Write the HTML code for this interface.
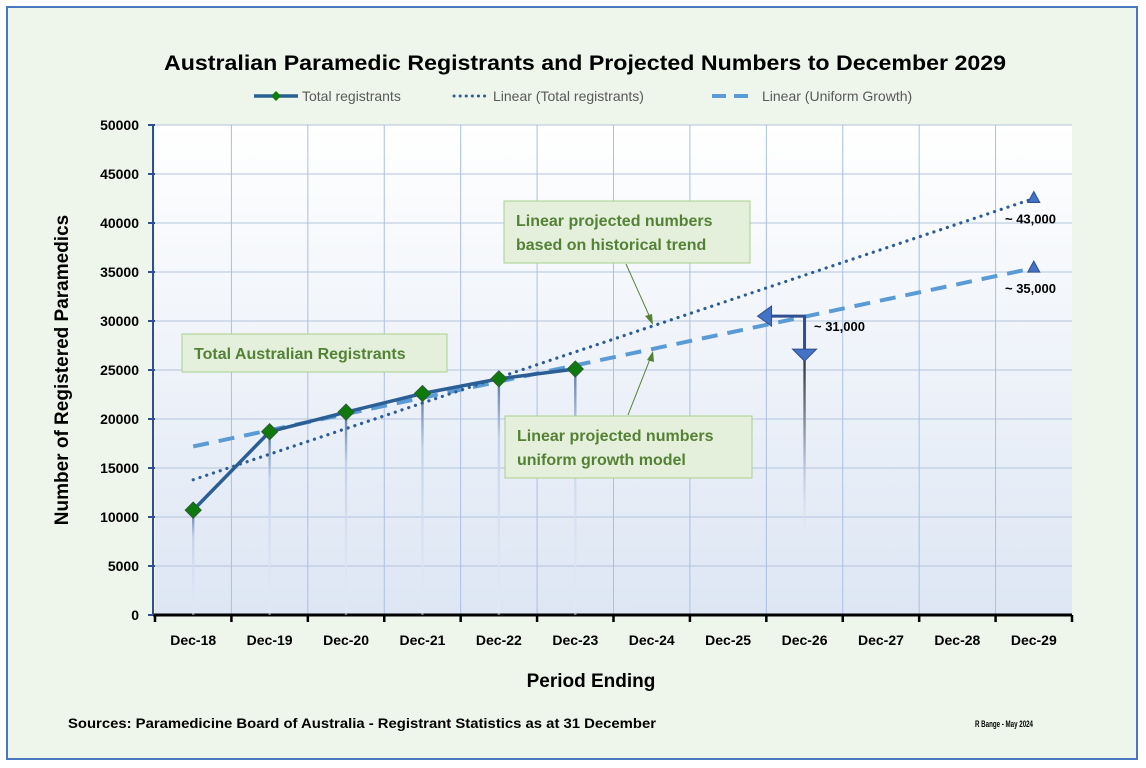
<!DOCTYPE html>
<html><head><meta charset="utf-8"><style>
body{margin:0;background:#fff;font-family:"Liberation Sans",sans-serif;}
#wrap{position:absolute;left:6px;top:6px;width:1132px;height:754px;border:2px solid #4a78c0;background:#eef5ea;box-sizing:border-box;}
</style></head><body>
<div id="wrap"></div>
<svg id="chart" width="1146" height="768" style="position:absolute;left:0;top:0">
<defs>
<linearGradient id="pbg" x1="0" y1="0" x2="0" y2="1"><stop offset="0" stop-color="#ffffff"/><stop offset="1" stop-color="#dde6f4"/></linearGradient>
<linearGradient id="drop" x1="0" y1="0" x2="0" y2="1"><stop offset="0" stop-color="#5a78a8"/><stop offset="0.25" stop-color="#c4d2ea"/><stop offset="1" stop-color="#e3eaf7" stop-opacity="0.5"/></linearGradient>
<linearGradient id="drop2" x1="0" y1="0" x2="0" y2="1"><stop offset="0" stop-color="#333"/><stop offset="0.6" stop-color="#b8c4dc"/><stop offset="1" stop-color="#e3eaf7" stop-opacity="0.3"/></linearGradient>
</defs>
<g id="g"></g>
</svg>
<script>
const categories=["Dec-18","Dec-19","Dec-20","Dec-21","Dec-22","Dec-23","Dec-24","Dec-25","Dec-26","Dec-27","Dec-28","Dec-29"];
const totalRegistrants=[10700,18700,20700,22600,24100,25100];
const linearTrend=[13800,42500];
const uniformGrowth=[17200,35400];
const yTicks=[0,5000,10000,15000,20000,25000,30000,35000,40000,45000,50000];
const endLabels=["~ 43,000","~ 35,000"];

const NS="http://www.w3.org/2000/svg";
const g=document.getElementById('g');
const L=155,R=1072,T=125,B=615;
const bw=(R-L)/categories.length;
const x=i=>L+bw*(i+0.5);
const y=v=>B-(v/50000)*(B-T);
function el(tag,attrs,parent){const e=document.createElementNS(NS,tag);for(const k in attrs)e.setAttribute(k,attrs[k]);(parent||g).appendChild(e);return e;}

let e=el('rect',{x:L,y:T,width:R-L,height:B-T,fill:'url(#pbg)'});


yTicks.forEach(v=>{if(v>0){const l=el('line',{x1:L,x2:R,y1:y(v),y2:y(v),stroke:'#b4c4dc','stroke-width':1});

}
const t=el('text',{x:139,y:y(v)+5,'text-anchor':'end','font-size':14,'font-weight':'bold',fill:'#000'});t.textContent=v;


el('line',{x1:148,x2:L,y1:y(v),y2:y(v),stroke:'#2f4f8f','stroke-width':2});});
for(let i=1;i<categories.length;i++){const l=el('line',{x1:L+bw*i,x2:L+bw*i,y1:T,y2:B,stroke:'#a9bfe6','stroke-width':1});

}
categories.forEach((c,i)=>{const t=el('text',{x:x(i),y:645,'text-anchor':'middle','font-size':14,'font-weight':'bold'});t.textContent=c;

});
for(let i=0;i<=categories.length;i++)el('line',{x1:L+bw*i,x2:L+bw*i,y1:B,y2:B+7,stroke:'#000','stroke-width':2.5});
el('line',{x1:L-2,x2:R,y1:B,y2:B,stroke:'#000','stroke-width':3});
el('line',{x1:153,x2:153,y1:T,y2:B,stroke:'#2f4f8f','stroke-width':2});

totalRegistrants.forEach((v,i)=>{const d=el('rect',{x:x(i)-1.2,y:y(v),width:2.4,height:B-y(v),fill:'url(#drop)'});

});

const n=categories.length-1;
e=el('line',{x1:x(0),y1:y(uniformGrowth[0]),x2:x(n),y2:y(uniformGrowth[1]),stroke:'#5b9bd5','stroke-width':4,'stroke-dasharray':'16 10'});


e=el('line',{x1:x(0),y1:y(linearTrend[0]),x2:x(n),y2:y(linearTrend[1]),stroke:'#2c5d96','stroke-width':3.2,'stroke-dasharray':'0.1 7','stroke-linecap':'round'});



e=el('polyline',{points:totalRegistrants.map((v,i)=>x(i)+','+y(v)).join(' '),fill:'none',stroke:'#2a5e94','stroke-width':3.5});


totalRegistrants.forEach((v,i)=>{const m=el('path',{d:`M${x(i)} ${y(v)-8}L${x(i)+8} ${y(v)}L${x(i)} ${y(v)+8}L${x(i)-8} ${y(v)}Z`,fill:'#0e7a0e',stroke:'#2d5a2d','stroke-width':1});

});

[linearTrend[1],uniformGrowth[1]].forEach((v,k)=>{const m=el('path',{d:`M${x(n)} ${y(v)-7}L${x(n)+6} ${y(v)+4}L${x(n)-6} ${y(v)+4}Z`,fill:'#4472c4',stroke:'#2f4f8f'});


const t=el('text',{x:1005,y:y(v)+25,'font-size':13,'font-weight':'bold'});t.textContent=endLabels[k];

});

const ax=x(8),ay=y(30500);
e=el('rect',{x:ax-1.2,y:ay+40,width:2.4,height:180,fill:'url(#drop2)'});


el('polyline',{points:`${ax-40},${ay} ${ax},${ay} ${ax},${ay+35}`,fill:'none',stroke:'#2f4f8f','stroke-width':3});
el('path',{d:`M${ax-47} ${ay}L${ax-33} ${ay-10}L${ax-33} ${ay+10}Z`,fill:'#4472c4',stroke:'#2f4f8f'});
el('path',{d:`M${ax} ${ay+45}L${ax-12} ${ay+33}L${ax+12} ${ay+33}Z`,fill:'#4472c4',stroke:'#2f4f8f'});
e=el('text',{x:814,y:331,'font-size':13,'font-weight':'bold'});e.textContent='~ 31,000';



function box(x0,y0,w,h,lines,name){const r=el('rect',{x:x0,y:y0,width:w,height:h,fill:'#e4efdc',stroke:'#a9d18e','stroke-width':1});


lines.forEach((s,i)=>{const t=el('text',{x:x0+12,y:y0+25+i*24,'font-size':16,'font-weight':'bold',fill:'#548235'});t.textContent=s;});}
box(182,334,265,38,["Total Australian Registrants"],'total-callout');
box(504,201,246,62,["Linear projected numbers","based on historical trend"],'historical-callout');
box(505,416,247,62,["Linear projected numbers","uniform growth model"],'uniform-callout');
el('line',{x1:626,y1:264,x2:652,y2:322,stroke:'#548235','stroke-width':1});
el('path',{d:'M653 325 L645 316 L652 314Z',fill:'#548235'});
el('line',{x1:628,y1:415,x2:652,y2:354,stroke:'#548235','stroke-width':1});
el('path',{d:'M653 351 L654 362 L647 360Z',fill:'#548235'});

function txt(s,a,name){const t=el('text',a);t.textContent=s;

return t;}
txt('Australian Paramedic Registrants and Projected Numbers to December 2029',{x:585,y:70,'text-anchor':'middle','font-size':21,'font-weight':'bold',textLength:842,lengthAdjust:'spacingAndGlyphs'},'chart-title');
txt('Period Ending',{x:591,y:687,'text-anchor':'middle','font-size':19,'font-weight':'bold'},'x-axis-title');
txt('Number of Registered Paramedics',{x:68,y:370,'text-anchor':'middle','font-size':19,'font-weight':'bold',transform:'rotate(-90 68 370)'},'y-axis-title');
txt('Sources: Paramedicine Board of Australia - Registrant Statistics as at 31 December',{x:68,y:728,'font-size':14,'font-weight':'bold',textLength:588,lengthAdjust:'spacingAndGlyphs'},'source-note');
txt('R Bange - May 2024',{x:975,y:727,'font-size':9,'font-weight':'bold',textLength:58,lengthAdjust:'spacingAndGlyphs'},'author-note');

el('line',{x1:254,x2:298,y1:96,y2:96,stroke:'#2a5e94','stroke-width':3.5});
el('path',{d:'M276 91L281 96L276 101L271 96Z',fill:'#0e7a0e'});
txt('Total registrants',{x:302,y:101,'font-size':14,fill:'#595959'},'legend-total');
el('line',{x1:454,x2:488,y1:96,y2:96,stroke:'#2c5d96','stroke-width':3,'stroke-dasharray':'0.1 6','stroke-linecap':'round'});
txt('Linear (Total registrants)',{x:493,y:101,'font-size':14,fill:'#595959'},'legend-linear');
el('line',{x1:712,x2:756,y1:96,y2:96,stroke:'#5b9bd5','stroke-width':4,'stroke-dasharray':'14 8'});
txt('Linear (Uniform Growth)',{x:762,y:101,'font-size':14,fill:'#595959'},'legend-uniform');
</script>
</body></html>
